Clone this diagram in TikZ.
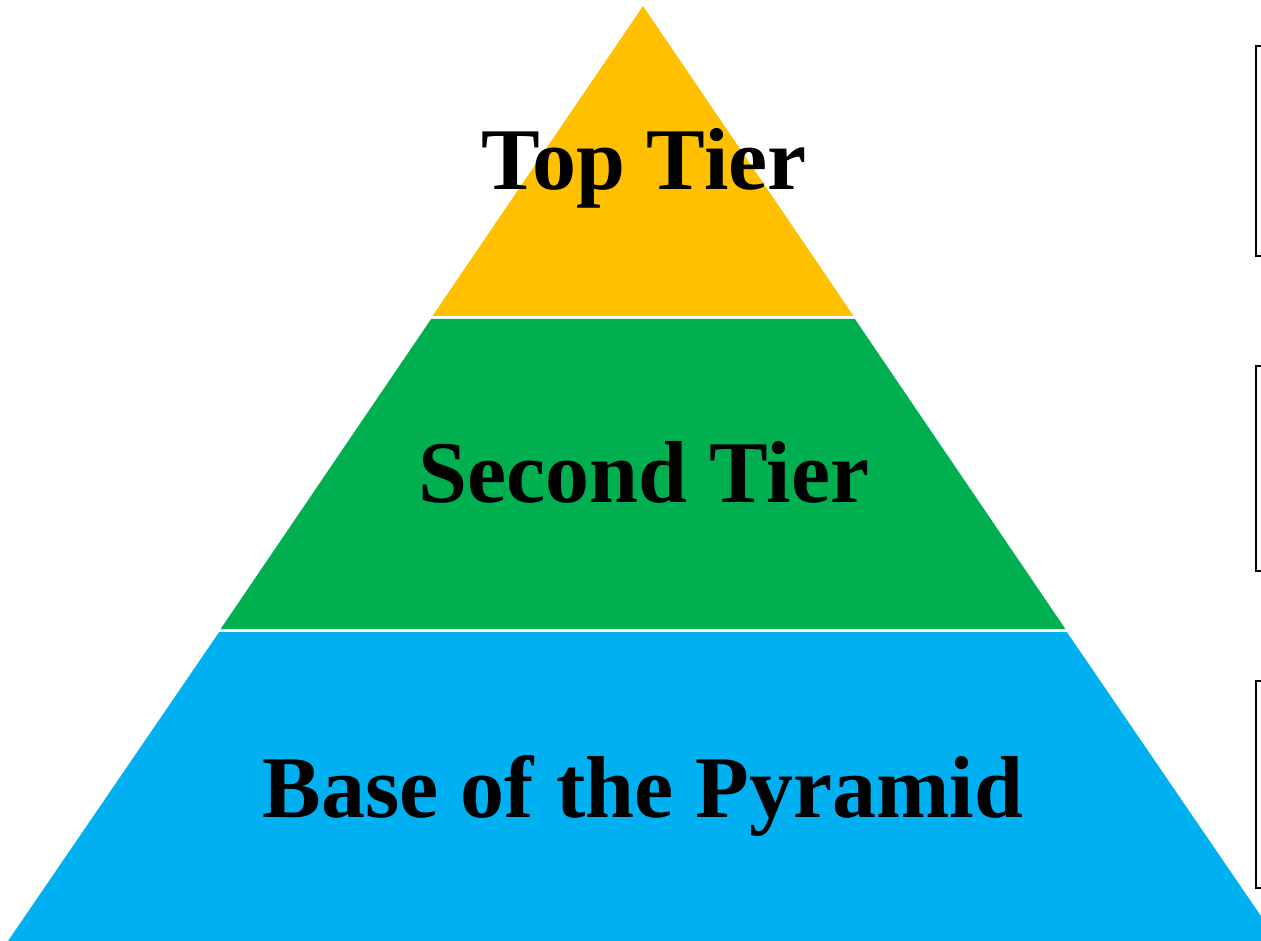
\documentclass[tikz,border=0pt]{standalone}
\usepackage{fontspec}
\setmainfont{Liberation Serif}
\definecolor{topc}{RGB}{255,192,0}
\definecolor{midc}{RGB}{0,176,80}
\definecolor{basec}{RGB}{0,176,240}
\begin{document}
\begin{tikzpicture}[x=1pt,y=-1pt,
  tierlabel/.style={anchor=base,inner sep=0pt,font=\fontsize{88}{90}\selectfont\bfseries},
  brk/.style={draw=black,line width=2.6pt}]
\useasboundingbox (0,0) rectangle (1261,941);
\clip (0,0) rectangle (1261,941);
% pyramid: apex (643,6), base (8,941)-(1278,941)
\fill[topc] (643,6) -- (853.5,316) -- (432.5,316) -- cycle;
\fill[midc] (431.1,319) -- (854.9,319) -- (1065.4,629) -- (220.6,629) -- cycle;
\fill[basec] (219.2,632) -- (1066.8,632) -- (1278,941) -- (8,941) -- cycle;
\node[tierlabel] (t1) at (644,190) {Top Tier};
\node[tierlabel] (t2) at (644,502) {Second Tier};
\node[tierlabel] (t3) at (643,817) {Base of the Pyramid};
% brackets
\draw[brk] (1265,46) -- (1256,46) -- (1256,256) -- (1265,256);
\draw[brk] (1265,366) -- (1256,366) -- (1256,571) -- (1265,571);
\draw[brk] (1265,681) -- (1256,681) -- (1256,888) -- (1265,888);
\end{tikzpicture}
\end{document}
